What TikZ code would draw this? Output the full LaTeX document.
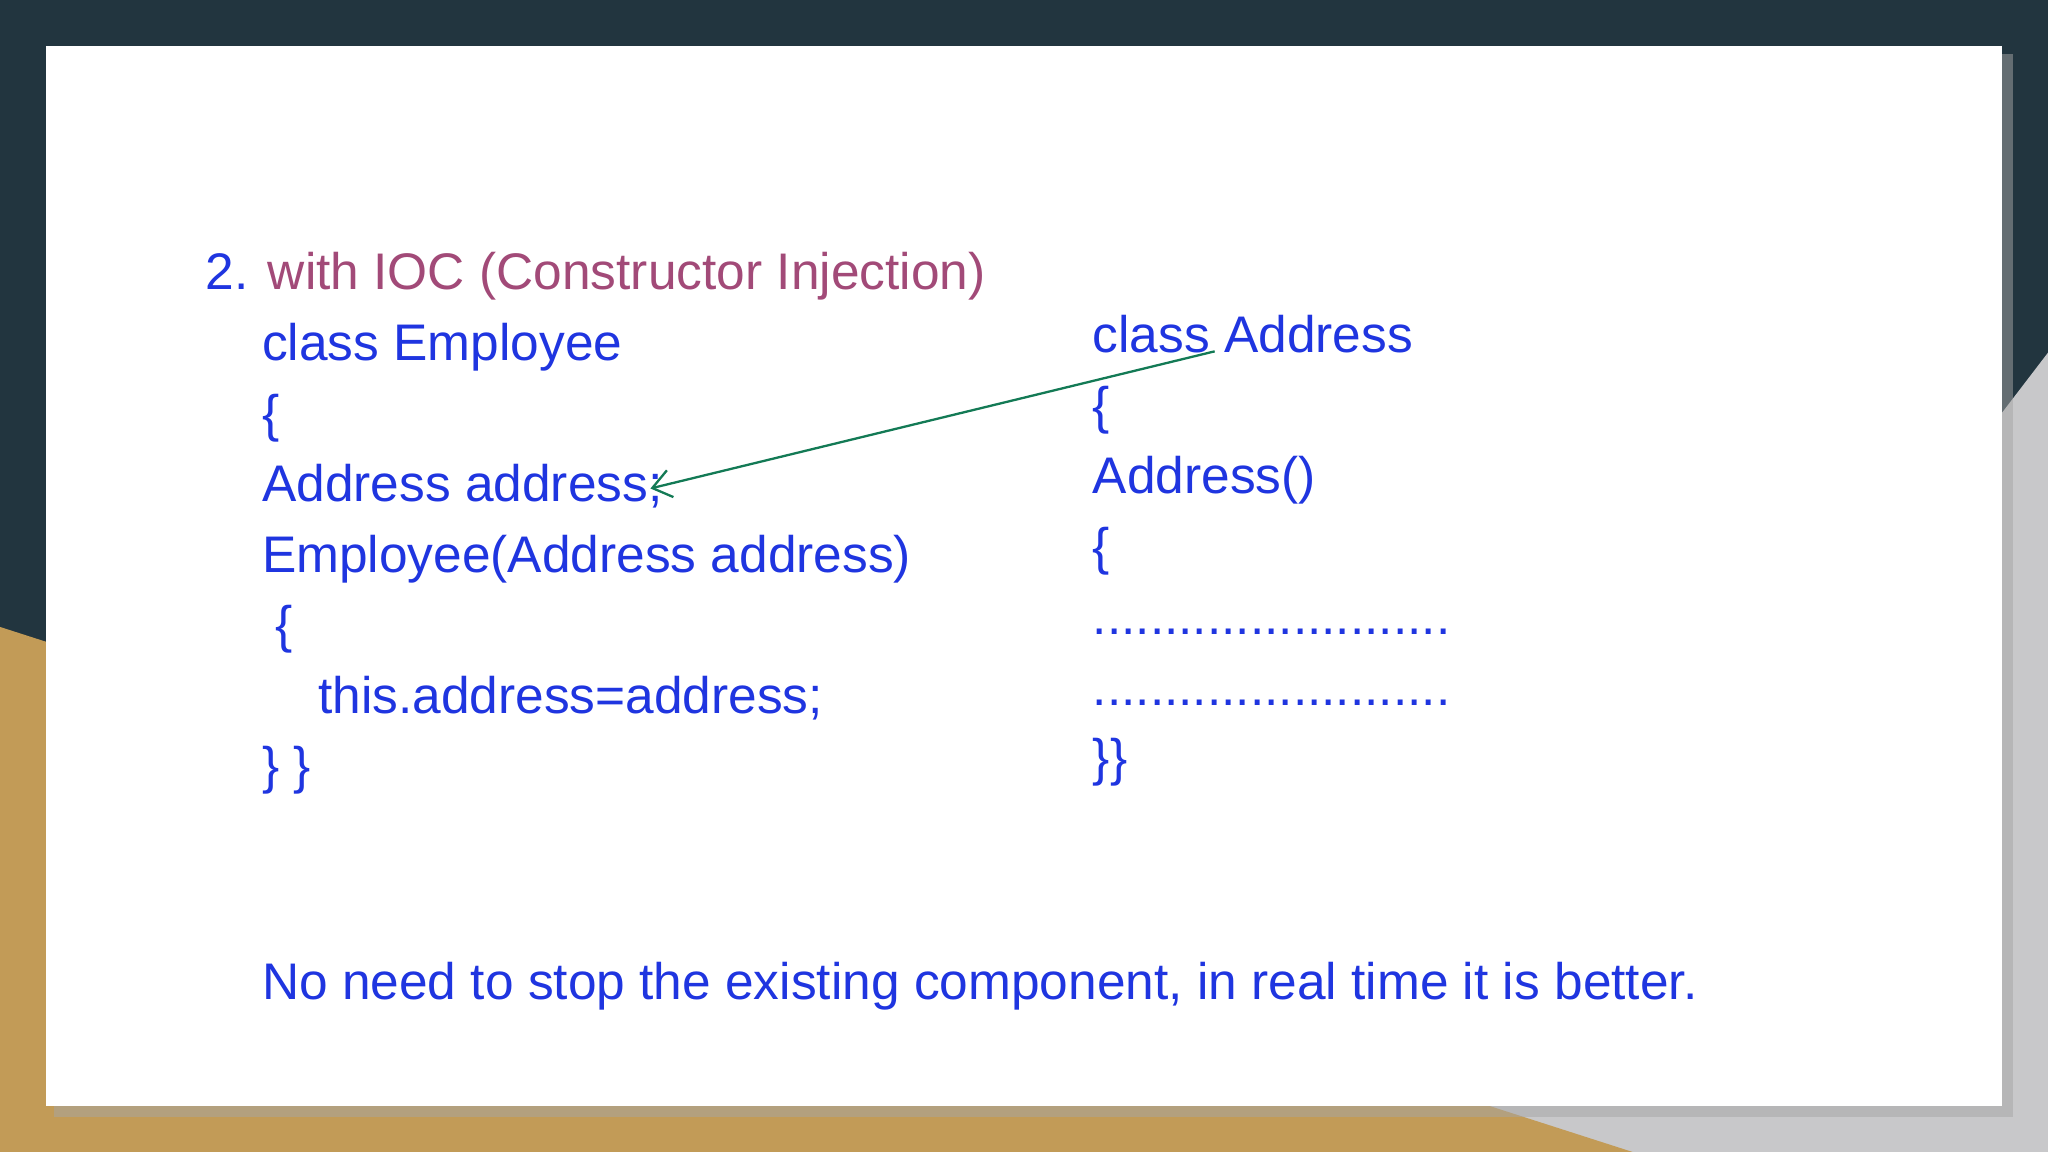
\documentclass[tikz,border=0pt]{standalone}
\usepackage{fontspec}
\setmainfont{Liberation Sans}
\usetikzlibrary{arrows.meta}
\definecolor{slate}{HTML}{22353F}
\definecolor{gold}{HTML}{C29B57}
\definecolor{greyb}{HTML}{C8C8CA}
\definecolor{txt}{HTML}{1F35E0}
\definecolor{ttl}{HTML}{A24A78}
\definecolor{arr}{HTML}{137A55}
\tikzset{t/.style={anchor=base west,inner sep=0pt,text=txt,font=\fontsize{11.2}{13}\selectfont}}
\begin{document}
\begin{tikzpicture}[x=0.01cm,y=-0.01cm]
\useasboundingbox (0,0) rectangle (1568,882);
\fill[slate] (0,0) rectangle (1568,882);
\fill[greyb] (1568,270) -- (1568,882) -- (1100,882) -- cycle;
\fill[gold] (0,480) -- (1250,882) -- (0,882) -- cycle;
\fill[black!35,opacity=0.5] (41,41) rectangle (1541,855);
\fill[white] (35,35) rectangle (1533,847);
\node[t] (ttl) at (157,222) {2. \textcolor{ttl}{with IOC (Constructor Injection)}};
\node[t] (e1) at (200,276) {class Employee};
\node[t] (e2) at (200,330) {\{};
\node[t] (e3) at (200,384) {Address address;};
\node[t] (e4) at (200,438) {Employee(Address address)};
\node[t] (e5) at (210,492) {\{};
\node[t] (e6) at (243,546) {this.address=address;};
\node[t] (e7) at (200,600) {\} \}};
\node[t] (a1) at (836,270) {class Address};
\node[t] (a2) at (836,324) {\{};
\node[t] (a3) at (836,378) {Address()};
\node[t] (a4) at (836,432) {\{};
\node[t] (a5) at (836,486) {.........................};
\node[t] (a6) at (836,540) {.........................};
\node[t] (a7) at (836,594) {\}\}};
\node[t] (b) at (200,765) {No need to stop the existing component, in real time it is better.};
\coordinate (s) at (930,269);
\coordinate (d) at (498,374);
\draw[arr,line width=0.5pt,-{Straight Barb[length=4pt,width=6pt]}] (s) -- (d);
\end{tikzpicture}
\end{document}
